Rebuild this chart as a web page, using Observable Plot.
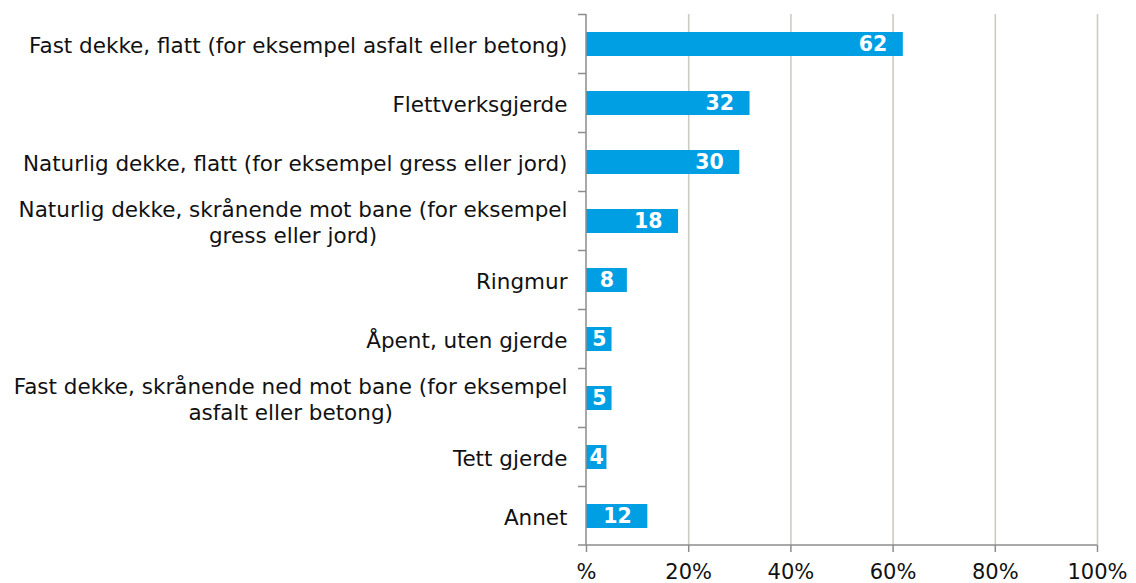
<!DOCTYPE html>
<html><head><meta charset="utf-8">
<script src="https://cdn.jsdelivr.net/npm/d3@7"></script>
<script src="https://cdn.jsdelivr.net/npm/@observablehq/plot@0.6"></script>
<style>html,body{margin:0;padding:0;background:#fff}</style>
</head><body><div id="chart"></div>
<script>
const categories = [
  "Fast dekke, flatt (for eksempel asfalt eller betong)",
  "Flettverksgjerde",
  "Naturlig dekke, flatt (for eksempel gress eller jord)",
  "Naturlig dekke, skrånende mot bane (for eksempel\ngress eller jord)",
  "Ringmur",
  "Åpent, uten gjerde",
  "Fast dekke, skrånende ned mot bane (for eksempel\nasfalt eller betong)",
  "Tett gjerde",
  "Annet"
];
const values = [62, 32, 30, 18, 8, 5, 5, 4, 12];
const xTicks = [0, 20, 40, 60, 80, 100];
const xTickLabels = ["%", "20%", "40%", "60%", "80%", "100%"];

const data = categories.map((c, i) => ({category: c, value: values[i]}));

const FONT = "'DejaVu Sans', Verdana, sans-serif";
const axisColor = "#8c8c8c";
const gridColor = "#cdcbc0";
const barColor = "#009fe3";

function axisLines(index, scales, vals, dims) {
  const {x, y} = scales;
  const top = dims.marginTop;
  const bottom = dims.height - dims.marginBottom;
  const x0 = x(0);
  const g = d3.create("svg:g").attr("stroke", axisColor).attr("stroke-width", 1.5).attr("fill", "none");
  g.append("line").attr("x1", x0).attr("x2", x0).attr("y1", top).attr("y2", bottom);
  g.append("line").attr("x1", x0 - 8).attr("x2", x(100)).attr("y1", bottom).attr("y2", bottom);
  const step = y.step ? y.step() : (bottom - top) / categories.length;
  categories.forEach((c) => {
    const yy = y(c) + y.bandwidth() / 2 - step / 2;
    g.append("line").attr("x1", x0 - 8).attr("x2", x0).attr("y1", yy).attr("y2", yy);
  });
  return g.node();
}

const chart = Plot.plot({
  width: 1136,
  height: 583,
  marginLeft: 586,
  marginRight: 39,
  marginTop: 14,
  marginBottom: 38,
  style: {fontFamily: FONT, fontSize: "21.5px", color: "#111", background: "#fff"},
  x: {domain: [0, 100]},
  y: {domain: categories, paddingInner: 0.6, paddingOuter: 0.3},
  marks: [
    Plot.gridX(xTicks.filter((d) => d > 0), {stroke: gridColor, strokeOpacity: 1, strokeWidth: 1.6}),
    Plot.barX(data, {x: "value", y: "category", fill: barColor}),
    Plot.text(data.filter((d) => d.value >= 12), {
      x: "value", y: "category", text: (d) => String(d.value),
      textAnchor: "end", dx: -16, fill: "white", fontWeight: "bold", fontSize: 20.5
    }),
    Plot.text(data.filter((d) => d.value < 12), {
      x: (d) => d.value / 2, y: "category", text: (d) => String(d.value),
      textAnchor: "middle", fill: "white", fontWeight: "bold", fontSize: 20.5
    }),
    axisLines,
    Plot.axisY({tickSize: 0, tickPadding: 19, label: null, lineHeight: 1.2, fontSize: 21.5}),
    Plot.axisX({
      ticks: xTicks, tickSize: 7, tickPadding: 12, label: null, stroke: axisColor, strokeWidth: 1.5,
      strokeOpacity: 1, fontSize: 21,
      tickFormat: (d) => xTickLabels[xTicks.indexOf(d)]
    })
  ]
});

document.getElementById("chart").append(chart);

chart.querySelectorAll('g[aria-label="y-axis tick label"] text').forEach((t) => {
  const tsp = t.querySelectorAll("tspan");
  if (tsp.length > 1) {
    const w = t.getBBox().width;
    t.setAttribute("text-anchor", "middle");
    tsp.forEach((s) => { s.setAttribute("x", -w / 2); s.setAttribute("text-anchor", "middle"); });
  }
});
</script>
</body></html>
